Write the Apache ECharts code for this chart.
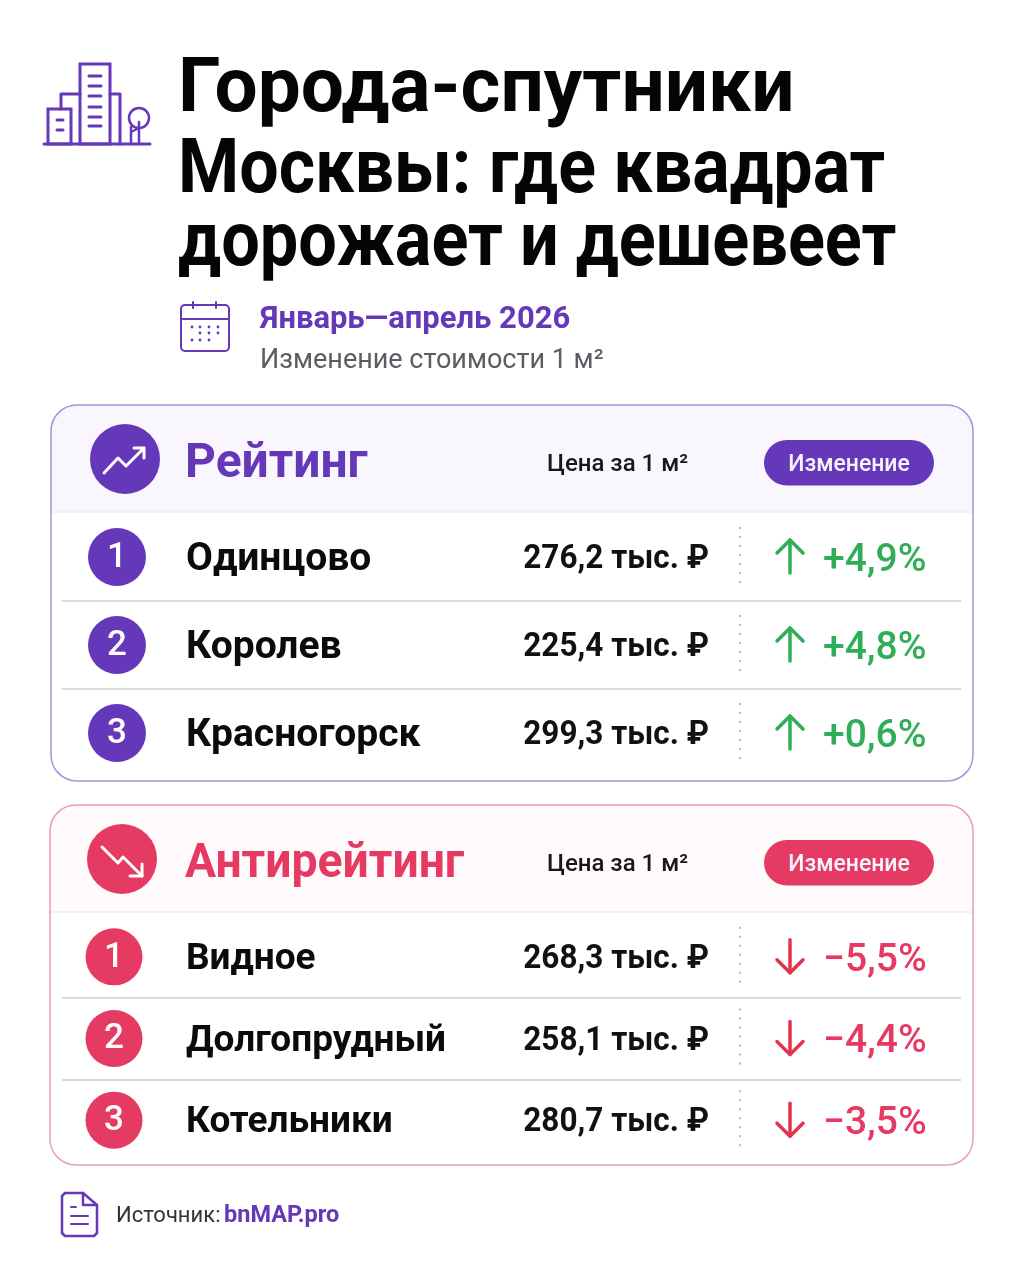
<!DOCTYPE html>
<html>
<head>
<meta charset="utf-8">
<style>
html, body { margin: 0; padding: 0; background: #fff; }
#chart { width: 1024px; height: 1280px; }
</style>
<script src="https://cdn.jsdelivr.net/npm/echarts@6/dist/echarts.min.js"></script>
</head>
<body>
<div id="chart"></div>
<script>
// data
var titleLines = ['Города-спутники', 'Москвы: где квадрат', 'дорожает и дешевеет'];
var period = 'Январь—апрель 2026';
var subtitle = 'Изменение стоимости 1 м²';
var priceHead = 'Цена за 1 м²';
var changeHead = 'Изменение';
var ranks = [1, 2, 3];

var ratingTitle = 'Рейтинг';
var ratingCities = ['Одинцово', 'Королев', 'Красногорск'];
var ratingPrices = [276.2, 225.4, 299.3];
var ratingChanges = [4.9, 4.8, 0.6];

var antiTitle = 'Антирейтинг';
var antiCities = ['Видное', 'Долгопрудный', 'Котельники'];
var antiPrices = [268.3, 258.1, 280.7];
var antiChanges = [-5.5, -4.4, -3.5];

var sourceLabel = 'Источник: ';
var sourceName = 'bnMAP.pro';

// colours
var PURPLE = '#6438b8', RED = '#e53a62', GREEN = '#2fae57', ARROW_RED = '#e2334f';
var FONT = 'Roboto';

var chart = echarts.init(document.getElementById('chart'), null, { renderer: 'canvas' });

// text element, works for graphic and custom series
var txt = function(x, y, s, size, weight, fill, align, sx) {
    return {
        type: 'text', x: x, y: y, scaleX: sx || 1, silent: true,
        style: {
            text: s, fontFamily: FONT, fontSize: size, fontWeight: weight, fill: fill,
            align: align || 'left', verticalAlign: 'middle'
        }
    };
};

var poly = function(points, color, width) {
    return {
        type: 'polyline', silent: true,
        shape: { points: points },
        style: { stroke: color, lineWidth: width, fill: null, lineCap: 'round', lineJoin: 'round' }
    };
};

var box = function(x, y, w, h, r, color, width, fill) {
    return {
        type: 'rect', silent: true,
        shape: { x: x, y: y, width: w, height: h, r: r || 0 },
        style: { stroke: color, lineWidth: width, fill: fill || null }
    };
};

var disc = function(x, y, r, fill) {
    return { type: 'circle', silent: true, shape: { cx: x, cy: y, r: r }, style: { fill: fill } };
};

var money = function(v) {
    return v.toFixed(1).replace('.', ',') + ' тыс. ₽';
};

var percent = function(v) {
    return (v > 0 ? '+' : '−') + Math.abs(v).toFixed(1).replace('.', ',') + '%';
};

// one table: rows come from the category axis
var tableSeries = function(index, cities, prices, changes, color, changeColor, arrowColor) {
    return {
        type: 'custom',
        xAxisIndex: index,
        yAxisIndex: index,
        silent: true,
        clip: false,
        data: cities.map(function(c, i) { return [0, i]; }),
        encode: { x: 0, y: 1 },
        renderItem: function(params, api) {
            var i = api.value(1);
            var y = api.coord([62, i])[1];
            var up = changes[i] > 0;
            var cx = index === 0 ? 117 : 114;
            var r = index === 0 ? 29 : 28.5;
            var nameSize = index === 0 ? 39 : 37;
            var ax = 790, at = y - 17, ab = y + 16;
            return {
                type: 'group',
                children: [
                    disc(cx, y, r, color),
                    txt(cx, y + 1, String(ranks[i]), 35, 500, '#fff', 'center'),
                    txt(186, y + 3, cities[i], nameSize, 700, '#0b0b0d', 'left'),
                    txt(709, y + 3, money(prices[i]), 33, 700, '#111114', 'right', 0.955),
                    {
                        type: 'line', silent: true,
                        shape: { x1: 740, y1: y - 30, x2: 740, y2: y + 29 },
                        style: { stroke: '#b9b9bf', lineWidth: 2, lineDash: [2, 7] }
                    },
                    poly([[ax, at], [ax, ab]], arrowColor, 3.5),
                    up ? poly([[ax - 13, at + 13], [ax, at], [ax + 13, at + 13]], arrowColor, 3.5)
                       : poly([[ax - 13, ab - 13], [ax, ab], [ax + 13, ab - 13]], arrowColor, 3.5),
                    txt(823, y + 4, percent(changes[i]), 39, 500, changeColor, 'left')
                ]
            };
        }
    };
};

var axisX = function(index) {
    return { type: 'value', gridIndex: index, min: 62, max: 961, show: false };
};

var axisY = function(index, cities) {
    return {
        type: 'category', gridIndex: index, data: cities, inverse: true,
        axisLine: { show: false }, axisTick: { show: false }, axisLabel: { show: false },
        splitLine: {
            show: true, showMinLine: false, showMaxLine: false,
            lineStyle: { color: '#d9d9dc', width: 2 }
        }
    };
};

// panel frame and its header
var panel = function(x, y, w, h, head, stroke, fill, color, title, titleSx, iconX, iconY, pillY, trend) {
    return [
        box(x, y, w, h, 26, null, 0, '#fff'),
        { type: 'rect', silent: true, shape: { x: x, y: y, width: w, height: head, r: [26, 26, 0, 0] }, style: { fill: fill } },
        { type: 'line', silent: true, shape: { x1: x, y1: y + head, x2: x + w, y2: y + head }, style: { stroke: '#efecf3', lineWidth: 1.5 } },
        box(x, y, w, h, 26, stroke, 1.5),
        disc(iconX, iconY, 35, color)
    ].concat(trend, [
        txt(185, iconY + 6, title, 48, 700, color, 'left', titleSx),
        txt(547, pillY + 25, priceHead, 24, 500, '#17171a', 'left'),
        box(764, pillY, 170, 45.5, 23, null, 0, color),
        txt(849, pillY + 25, changeHead, 23, 500, '#f8f4ff', 'center')
    ]);
};

// building icon
var cityIcon = [
    poly([[44, 144], [150, 144]], PURPLE, 3),
    box(80, 64, 30, 80, 0, PURPLE, 3),
    poly([[80, 94], [61, 94], [61, 109]], PURPLE, 3),
    poly([[110, 94], [120, 94], [120, 144]], PURPLE, 3),
    box(48, 109, 23, 35, 0, PURPLE, 3),
    poly([[89, 76], [101, 76]], PURPLE, 3),
    poly([[89, 86], [101, 86]], PURPLE, 3),
    poly([[89, 96], [101, 96]], PURPLE, 3),
    poly([[89, 107], [101, 107]], PURPLE, 3),
    poly([[89, 117], [101, 117]], PURPLE, 3),
    poly([[89, 126], [101, 126]], PURPLE, 3),
    poly([[57, 120], [63, 120]], PURPLE, 3),
    poly([[57, 130], [63, 130]], PURPLE, 3),
    { type: 'circle', silent: true, shape: { cx: 139, cy: 118, r: 10 }, style: { stroke: PURPLE, lineWidth: 2.5, fill: null } },
    poly([[131, 127], [131, 144]], PURPLE, 2.5),
    poly([[139, 122], [139, 144]], PURPLE, 2.5),
    poly([[131, 132], [139, 128]], PURPLE, 2)
];

// calendar icon
var calendarIcon = [
    box(181, 305, 48, 46, 4, PURPLE, 2),
    poly([[181, 319], [229, 319]], PURPLE, 2),
    poly([[193, 302], [193, 308]], PURPLE, 2),
    poly([[216, 302], [216, 308]], PURPLE, 2)
];
[[192, 327], [200, 327], [209, 327], [218, 327], [200, 333], [209, 333], [218, 333], [192, 340], [200, 340], [209, 340]].forEach(function(p) {
    calendarIcon.push(disc(p[0], p[1], 1.4, PURPLE));
});

// doc icon
var docIcon = [
    poly([[83, 1193], [65, 1193], [62, 1196], [62, 1233], [65, 1236], [94, 1236], [97, 1233], [97, 1205], [83, 1193]], PURPLE, 2.5),
    poly([[83, 1193], [83, 1205], [97, 1205]], PURPLE, 2.5),
    poly([[71, 1207], [76, 1207]], PURPLE, 2),
    poly([[71, 1216], [88, 1216]], PURPLE, 2),
    poly([[71, 1224], [88, 1224]], PURPLE, 2)
];

var trendUp = [
    poly([[104, 473], [118, 458], [126, 466], [144, 448]], '#fff', 3),
    poly([[134, 448], [144, 448], [144, 458]], '#fff', 3)
];
var trendDown = [
    poly([[102, 847], [118, 863], [123, 857], [142, 876]], '#fff', 3),
    poly([[142, 864], [142, 876], [130, 876]], '#fff', 3)
];

var elements = []
    .concat(panel(51, 405, 922, 376, 107, '#a593dc', '#f9f6fe', PURPLE, ratingTitle, 1, 125, 459, 440, trendUp))
    .concat(panel(50, 805, 923, 360, 107, '#ec9db0', '#fffafb', RED, antiTitle, 0.965, 122, 859, 840, trendDown))
    .concat(cityIcon, calendarIcon, docIcon)
    .concat([
        txt(178, 92, titleLines[0], 76, 700, '#050507', 'left', 1.007),
        txt(178, 173, titleLines[1], 76, 700, '#050507', 'left', 0.92),
        txt(178, 246, titleLines[2], 76, 700, '#050507', 'left', 0.9),
        txt(260, 320, period, 31, 700, PURPLE),
        txt(260, 361, subtitle, 27, 400, '#5c5c62'),
        txt(116, 1216, sourceLabel, 22, 400, '#333338'),
        txt(224, 1216, sourceName, 23.5, 700, PURPLE)
    ]);

chart.setOption({
    animation: false,
    backgroundColor: '#fff',
    grid: [
        { left: 62, right: 63, top: 513, height: 264 },
        { left: 62, right: 63, top: 916, height: 245 }
    ],
    xAxis: [axisX(0), axisX(1)],
    yAxis: [axisY(0, ratingCities), axisY(1, antiCities)],
    graphic: { elements: elements },
    series: [
        tableSeries(0, ratingCities, ratingPrices, ratingChanges, PURPLE, GREEN, GREEN),
        tableSeries(1, antiCities, antiPrices, antiChanges, RED, RED, ARROW_RED)
    ]
});
</script>
</body>
</html>
